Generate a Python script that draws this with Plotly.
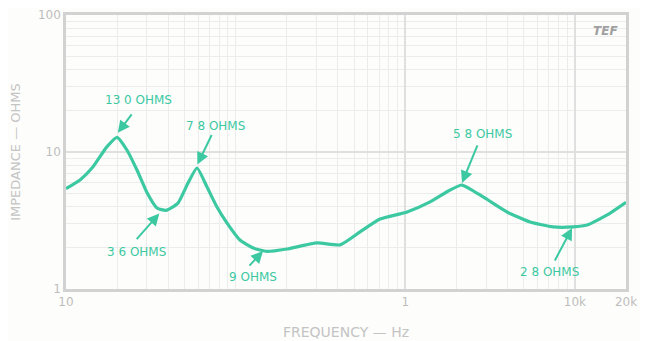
import math
import plotly.graph_objects as go

# impedance curve
freq_hz = [10, 12.1, 14.4, 17.4, 20.0, 22.9, 26.2, 30.1, 34.4, 38.9, 45.7, 52.4, 59.2, 67.8,
           77.6, 89, 106, 127, 153, 201, 302, 413, 541, 710, 1025, 1400, 1837, 2162, 2876,
           3981, 5445, 7430, 9750, 11800, 15490, 20000]
impedance_ohms = [5.4, 6.25, 7.77, 10.9, 12.8, 10.3, 7.39, 5.02, 3.9, 3.75, 4.24, 5.94, 7.64, 5.55,
                  3.97, 3.03, 2.28, 1.99, 1.88, 1.96, 2.17, 2.1, 2.61, 3.24, 3.65, 4.32, 5.28, 5.74,
                  4.7, 3.65, 3.08, 2.84, 2.84, 2.93, 3.47, 4.3]

# callouts
callout_text = ["13 0 OHMS", "7 8 OHMS", "3 6 OHMS", "9 OHMS", "5 8 OHMS", "2 8 OHMS"]
callout_text_freq = [26.6, 75.7, 25.9, 127, 2840, 7050]
callout_text_ohms = [24.0, 15.5, 1.86, 1.224, 13.5, 1.33]
arrow_tip_freq = [20.2, 59.5, 35.5, 145, 2160, 9620]
arrow_tip_ohms = [13.8, 8.1, 3.55, 1.89, 5.95, 2.79]
arrow_tail_dx = [15, 15, -24, -15, 16, -18]
arrow_tail_dy = [-20, -31, 27, 16, -39, 34]

x_tick_vals = [10, 1000, 10000, 20000]
x_tick_text = ["10", "1", "10k", "20k"]
y_tick_vals = [1, 10, 100]
y_tick_text = ["1", "10", "100"]

minor_x = [m * 10 ** e for e in range(1, 5) for m in range(1, 10) if m * 10 ** e <= 20000]
minor_y = [m * 10 ** e for e in range(0, 2) for m in range(1, 10)]

curve_color = "#3cc9a2"
gray = "#bdbdbd"

fig = go.Figure()
fig.add_trace(go.Scatter(x=freq_hz, y=impedance_ohms, mode="lines",
                         line=dict(color=curve_color, width=3.2, shape="spline", smoothing=0.5),
                         showlegend=False, hoverinfo="skip"))

annotations = []
for t, tf, to in zip(callout_text, callout_text_freq, callout_text_ohms):
    annotations.append(dict(x=math.log10(tf), y=math.log10(to), xref="x", yref="y",
                            text=t, showarrow=False,
                            font=dict(size=12, color=curve_color, family="DejaVu Sans")))
for tf, to, dx, dy in zip(arrow_tip_freq, arrow_tip_ohms, arrow_tail_dx, arrow_tail_dy):
    annotations.append(dict(x=math.log10(tf), y=math.log10(to), xref="x", yref="y",
                            text="", showarrow=True, ax=dx, ay=dy,
                            arrowhead=2, arrowsize=1.2, arrowwidth=2, arrowcolor=curve_color))
annotations.append(dict(x=0.99, y=0.975, xref="paper", yref="paper", text="<i><b>TEF</b></i>",
                        showarrow=False, xanchor="right", yanchor="top",
                        font=dict(size=12, color="#a0a0a0", family="DejaVu Sans")))

# the page body adds an 8px offset; margins compensate for it
fig.update_layout(
    width=648, height=341,
    margin=dict(l=58, r=30, t=7, b=60),
    paper_bgcolor="#fdfdfb", plot_bgcolor="#fdfdfb",
    annotations=annotations,
    font=dict(family="DejaVu Sans", color=gray),
)
fig.update_xaxes(type="log", range=[1, math.log10(20000)], automargin=False,
                 tickvals=x_tick_vals, ticktext=x_tick_text,
                 tickfont=dict(size=12, color=gray),
                 showgrid=True, gridcolor="#e0e0e0", gridwidth=1.5,
                 minor=dict(tickvals=minor_x, showgrid=True, gridcolor="#ececec", gridwidth=1.2),
                 showline=True, linecolor="#d2d2d2", linewidth=2.5, mirror=True,
                 ticks="", zeroline=False,
                 title=dict(text="FREQUENCY — Hz", font=dict(size=14, color="#c4c4c4"), standoff=20))
fig.update_yaxes(type="log", range=[0, 2], automargin=False,
                 tickvals=y_tick_vals, ticktext=y_tick_text,
                 tickfont=dict(size=12, color=gray),
                 showgrid=True, gridcolor="#e0e0e0", gridwidth=1.5,
                 minor=dict(tickvals=minor_y, showgrid=True, gridcolor="#ececec", gridwidth=1.2),
                 showline=True, linecolor="#d2d2d2", linewidth=2.5, mirror=True,
                 ticks="", zeroline=False,
                 title=dict(text="IMPEDANCE — OHMS", font=dict(size=13, color="#c4c4c4"), standoff=15))

fig.write_html("out.html")
